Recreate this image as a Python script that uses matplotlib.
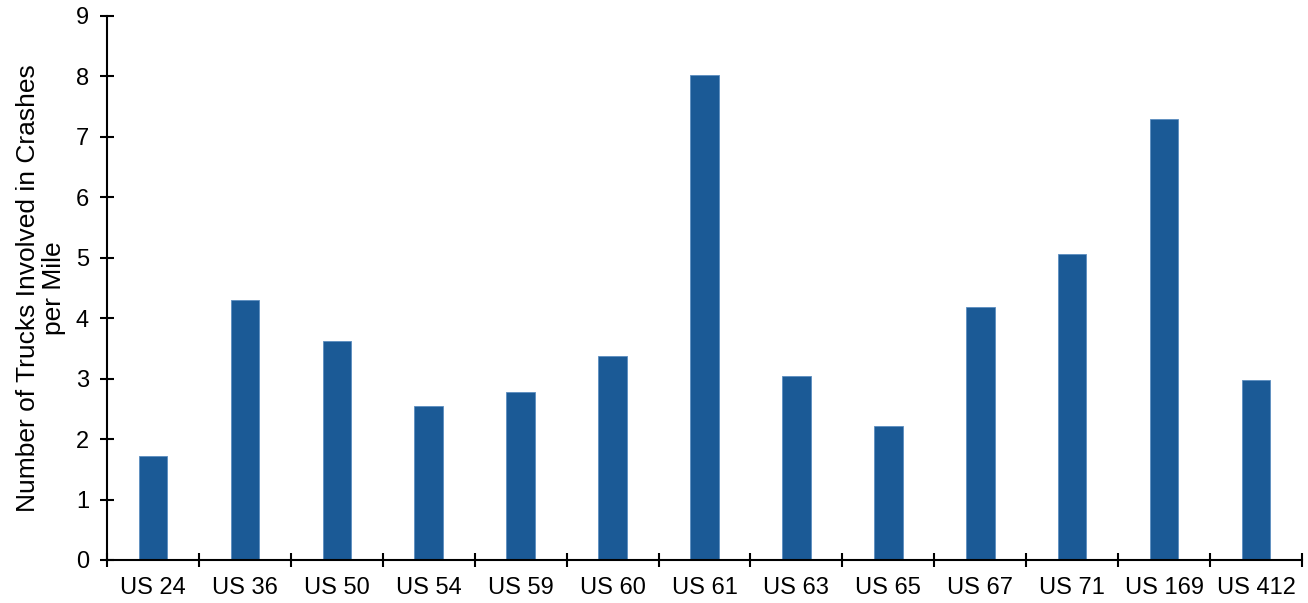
import matplotlib
matplotlib.use("Agg")
import matplotlib.pyplot as plt
import numpy as np

categories = ["US 24", "US 36", "US 50", "US 54", "US 59", "US 60", "US 61",
              "US 63", "US 65", "US 67", "US 71", "US 169", "US 412"]
values = [1.72, 4.30, 3.63, 2.54, 2.78, 3.38, 8.03, 3.05, 2.22, 4.18, 5.06, 7.30, 2.97]
y_ticks = [0, 1, 2, 3, 4, 5, 6, 7, 8, 9]

plt.rcParams['font.family'] = ['Liberation Sans', 'DejaVu Sans']

fig = plt.figure(figsize=(13.08, 6.03), dpi=100)
ax = fig.add_axes([107/1308, 1-560/603, (1302-107)/1308, (560-16)/603])

x = np.arange(len(categories))
ax.bar(x, values, width=0.31, color="#1B5A96", edgecolor="#5B8DC0", linewidth=0.6)

ax.set_xlim(-0.5, len(categories) - 0.5)
ax.set_ylim(0, 9)
ax.set_yticks(y_ticks)
ax.set_yticklabels([str(t) for t in y_ticks], fontsize=17)

ax.set_xticks(np.arange(len(categories) + 1) - 0.5)
ax.set_xticklabels([])
ax.set_xticks(x, minor=True)
ax.set_xticklabels(categories, minor=True, fontsize=17)
ax.tick_params(axis='x', which='minor', length=0, pad=12)
ax.tick_params(axis='x', which='major', direction='inout', length=10, width=1.5)
ax.tick_params(axis='y', direction='inout', length=10, width=1.5, pad=8)

for s in ['top', 'right']:
    ax.spines[s].set_visible(False)
for s in ['left', 'bottom']:
    ax.spines[s].set_linewidth(1.5)

ax.set_ylabel("Number of Trucks Involved in Crashes\nper Mile", fontsize=19,
              linespacing=1.1, labelpad=7)

fig.savefig("out.png", dpi=100)
